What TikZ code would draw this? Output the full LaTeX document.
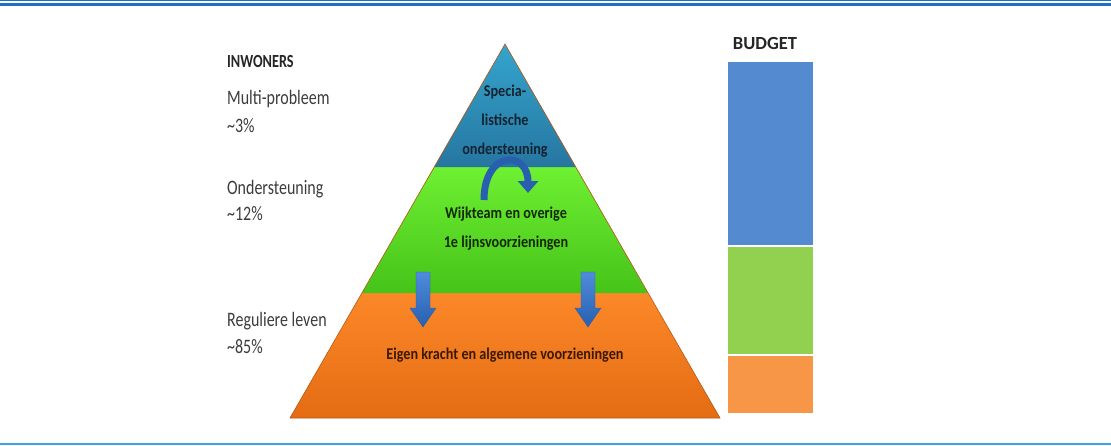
\documentclass[tikz,border=0pt]{standalone}
\usepackage{fontspec}
\setmainfont{Carlito}
\usetikzlibrary{arrows.meta}
\definecolor{lblue}{RGB}{28,112,200}
\definecolor{bline}{RGB}{70,160,220}
\definecolor{ttop}{RGB}{52,165,205}
\definecolor{tbot}{RGB}{38,118,160}
\definecolor{gtop}{RGB}{110,240,50}
\definecolor{gbot}{RGB}{70,195,25}
\definecolor{otop}{RGB}{252,136,40}
\definecolor{obot}{RGB}{228,108,20}
\definecolor{arrA}{RGB}{80,140,220}
\definecolor{arrB}{RGB}{40,95,175}
\definecolor{budB}{RGB}{84,139,208}
\definecolor{budG}{RGB}{146,208,80}
\definecolor{budO}{RGB}{247,150,70}
\definecolor{lefttext}{RGB}{60,60,60}
\tikzset{
  lefttxt/.style={anchor=west, inner sep=0pt, text=lefttext, font=\fontsize{20.5}{24}\selectfont, align=left, transform shape, xscale=0.78},
  headtxt/.style={anchor=west, inner sep=0pt, text=black!85, font=\bfseries\fontsize{18.5}{22}\selectfont, transform shape, xscale=0.77},
  pyrtxt/.style={inner sep=0pt, align=center, font=\bfseries\fontsize{16.5}{29}\selectfont, transform shape, xscale=0.86},
  blockarrow/.style={top color=arrA, bottom color=arrB, draw=arrB, line width=0.4pt},
}
\begin{document}
\begin{tikzpicture}[x=1pt,y=-1pt]
\useasboundingbox (0,0) rectangle (1111,445);
% frame lines
\fill[lblue] (0,0) rectangle (1111,1.3);
\fill[lblue] (0,2.8) rectangle (1111,5.6);
\fill[bline] (0,442.8) rectangle (1111,445);
% pyramid layers
\shade[top color=otop, bottom color=obot] (362,293) -- (648,293) -- (720,418) -- (290,418) -- cycle;
\shade[top color=gtop, bottom color=gbot] (434,167) -- (576,167) -- (648,293) -- (362,293) -- cycle;
\shade[top color=ttop, bottom color=tbot] (505,44) -- (576,167) -- (434,167) -- cycle;
\draw[obot!80!black, line width=0.6pt] (505,44) -- (720,418) -- (290,418) -- cycle;
% pyramid texts
\node[pyrtxt, text={rgb,255:red,20;green,35;blue,50}] (top) at (505,121) {Specia-\\listische\\ondersteuning};
\node[pyrtxt, text={rgb,255:red,20;green,40;blue,10}] (mid) at (506,229) {Wijkteam en overige\\1e lijnsvoorzieningen};
\node[pyrtxt, text={rgb,255:red,60;green,25;blue,5}] (bot) at (505,355) {Eigen kracht en algemene voorzieningen};
% curved arrow
\draw[arrB, line width=7pt, -{Triangle[width=20pt,length=12pt]}] (484,200) .. controls (484,150) and (528,150) .. (528,193);
% down block arrows
\foreach \c in {423,588}{
  \shade[blockarrow] (\c-7,272) -- (\c+7,272) -- (\c+7,308) -- (\c+13,308) -- (\c,327) -- (\c-13,308) -- (\c-7,308) -- cycle;
}
% left texts
\node[headtxt] (inw) at (227,61) {INWONERS};
\node[lefttxt] (mp) at (227,99) {Multi-probleem};
\node[lefttxt] (mp2) at (227,126) {\textasciitilde 3\%};
\node[lefttxt] (on) at (227,189) {Ondersteuning};
\node[lefttxt] (on2) at (227,214) {\textasciitilde 12\%};
\node[lefttxt] (rl) at (227,321) {Reguliere leven};
\node[lefttxt] (rl2) at (227,347) {\textasciitilde 85\%};
% budget
\node[headtxt, anchor=center, xscale=1.0/0.77] (bud) at (765,43) {BUDGET};
\fill[budB] (728,62) rectangle (813,245);
\fill[budG] (728,247) rectangle (813,354);
\fill[budO] (728,356) rectangle (813,413);
\end{tikzpicture}
\end{document}
